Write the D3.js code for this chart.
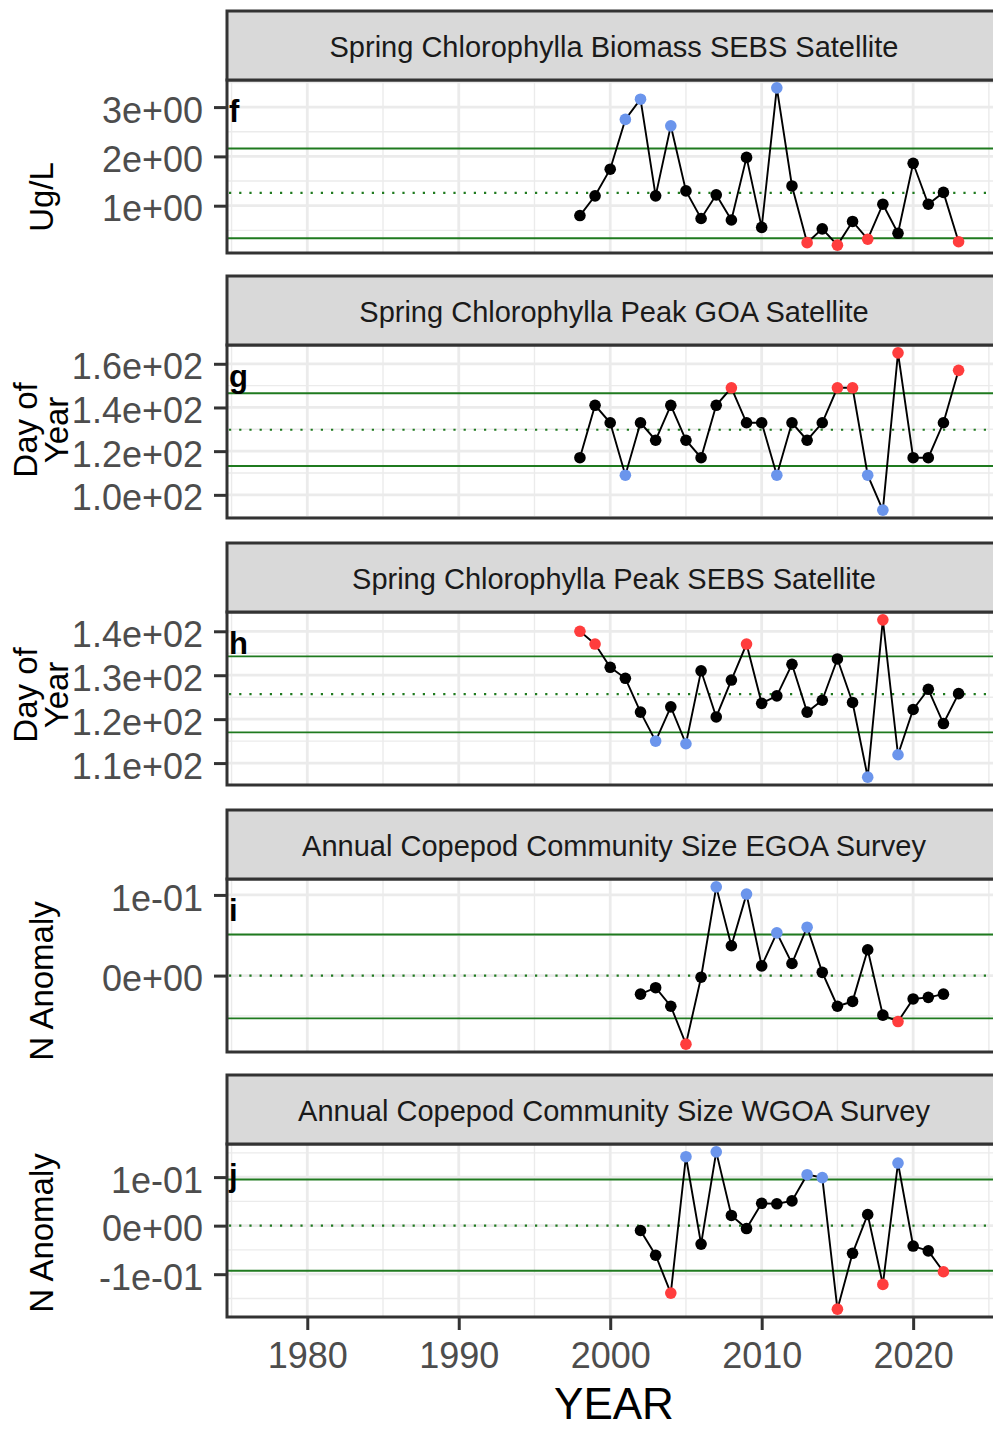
<!DOCTYPE html>
<html>
<head>
<meta charset="utf-8">
<script src="https://cdn.jsdelivr.net/npm/d3@7"></script>
<style>
  html, body { margin: 0; padding: 0; background: #ffffff; }
  svg { display: block; }
  text { font-family: "Liberation Sans", Arial, sans-serif; }
</style>
</head>
<body>
<svg id="chart" width="993" height="1429"></svg>
<script>
// ---- Series ----
const yearsSatellite = [1998, 1999, 2000, 2001, 2002, 2003, 2004, 2005, 2006, 2007, 2008, 2009, 2010,
                        2011, 2012, 2013, 2014, 2015, 2016, 2017, 2018, 2019, 2020, 2021, 2022, 2023];
const yearsSurvey = [2002, 2003, 2004, 2005, 2006, 2007, 2008, 2009, 2010, 2011, 2012,
                     2013, 2014, 2015, 2016, 2017, 2018, 2019, 2020, 2021, 2022];

const chlBiomassSEBS = [0.80, 1.20, 1.74, 2.75, 3.16, 1.20, 2.62, 1.30, 0.74, 1.22, 0.71, 1.98, 0.56,
                        3.39, 1.40, 0.25, 0.53, 0.20, 0.68, 0.32, 1.03, 0.44, 1.86, 1.03, 1.27, 0.27];
const chlPeakGOA = [117, 141, 133, 109, 133, 125, 141, 125, 117, 141, 149, 133, 133,
                    109, 133, 125, 133, 149, 149, 109, 93, 165, 117, 117, 133, 157];
const chlPeakSEBS = [140.0, 137.1, 131.8, 129.3, 121.6, 115.0, 122.8, 114.4, 131.0, 120.5, 128.9, 137.1, 123.6,
                     125.3, 132.5, 121.6, 124.3, 133.7, 123.8, 106.8, 142.6, 111.9, 122.2, 126.8, 119.0, 125.8];
const copepodEGOA = [-0.023, -0.015, -0.038, -0.085, -0.002, 0.110, 0.037, 0.101, 0.012, 0.053, 0.015,
                     0.060, 0.004, -0.038, -0.032, 0.032, -0.049, -0.057, -0.029, -0.027, -0.023];
const copepodWGOA = [-0.010, -0.061, -0.139, 0.142, -0.038, 0.152, 0.021, -0.006, 0.046, 0.045, 0.051,
                     0.105, 0.099, -0.172, -0.057, 0.023, -0.121, 0.129, -0.042, -0.052, -0.095];

// Reference lines: long-term mean and mean +/- 1 SD
const meanLines  = [1.26, 129.8, 125.7, 0.000, 0.000];
const upperLines = [2.16, 146.5, 134.3, 0.051, 0.095];
const lowerLines = [0.34, 113.2, 117.0, -0.053, -0.093];

// Panel titles, letters and axis titles
const panelTitles = [
  "Spring Chlorophylla Biomass SEBS Satellite",
  "Spring Chlorophylla Peak GOA Satellite",
  "Spring Chlorophylla Peak SEBS Satellite",
  "Annual Copepod Community Size EGOA Survey",
  "Annual Copepod Community Size WGOA Survey"
];
const panelLetters = ["f", "g", "h", "i", "j"];
const yTitles = [["Ug/L"], ["Day of", "Year"], ["Day of", "Year"], ["N Anomaly"], ["N Anomaly"]];

// Y tick values and their printed labels
const yTicks = [
  [1, 2, 3],
  [100, 120, 140, 160],
  [110, 120, 130, 140],
  [0, 0.1],
  [-0.1, 0, 0.1]
];
const yTickLabels = [
  ["1e+00", "2e+00", "3e+00"],
  ["1.0e+02", "1.2e+02", "1.4e+02", "1.6e+02"],
  ["1.1e+02", "1.2e+02", "1.3e+02", "1.4e+02"],
  ["0e+00", "1e-01"],
  ["-1e-01", "0e+00", "1e-01"]
];
const yMinorTicks = [
  [0.5, 1.5, 2.5, 3.5],
  [90, 110, 130, 150],
  [105, 115, 125, 135],
  [-0.05, 0.05],
  [-0.15, -0.05, 0.05, 0.15]
];
const xTicks = [1980, 1990, 2000, 2010, 2020];
const xTickLabels = ["1980", "1990", "2000", "2010", "2020"];
const xMinorTicks = [1975, 1985, 1995, 2005, 2015, 2025];

// colour of points above the upper line / below the lower line
const highColors = ["#6b95ec", "#ff3d3d", "#ff3d3d", "#6b95ec", "#6b95ec"];
const lowColors  = ["#ff3d3d", "#6b95ec", "#6b95ec", "#ff3d3d", "#ff3d3d"];

const panels = [
  { years: yearsSatellite, values: chlBiomassSEBS },
  { years: yearsSatellite, values: chlPeakGOA },
  { years: yearsSatellite, values: chlPeakSEBS },
  { years: yearsSurvey, values: copepodEGOA },
  { years: yearsSurvey, values: copepodWGOA }
];

// ---- Layout ----
const stripTops = [11, 276, 543, 810, 1075];
const stripH = 69;
const panelH = 173;
const left = 227, right = 1001;
const yTitleCenters = [197, 430, 695, 981, 1233];

const svg = d3.select("#chart");
svg.append("rect").attr("width", 993).attr("height", 1429).attr("fill", "#ffffff");

const x = d3.scaleLinear().domain([1974.7, 2025.8]).range([left, right]);

const GRID = "#ebebeb";
const BORDER = "#333333";
const GREEN = "#1f7a1f";

panels.forEach((p, k) => {
  const sTop = stripTops[k];
  const pTop = sTop + stripH;
  const pBot = pTop + panelH;
  const g = svg.append("g");

  const [vmin, vmax] = d3.extent(p.values.concat([upperLines[k], lowerLines[k]]));
  const pad = (vmax - vmin) * 0.05;
  const y = d3.scaleLinear().domain([vmin - pad, vmax + pad]).range([pBot, pTop]);

  const clipId = "clip" + k;
  g.append("clipPath").attr("id", clipId)
    .append("rect").attr("x", left).attr("y", pTop).attr("width", right - left).attr("height", panelH);

  const body = g.append("g").attr("clip-path", `url(#${clipId})`);

  // minor grid
  body.selectAll(".ym").data(yMinorTicks[k]).join("line")
    .attr("x1", left).attr("x2", right)
    .attr("y1", d => y(d)).attr("y2", d => y(d))
    .attr("stroke", GRID).attr("stroke-width", 1.4);
  body.selectAll(".xm").data(xMinorTicks).join("line")
    .attr("x1", d => x(d)).attr("x2", d => x(d))
    .attr("y1", pTop).attr("y2", pBot)
    .attr("stroke", GRID).attr("stroke-width", 1.4);
  // major grid
  body.selectAll(".yM").data(yTicks[k]).join("line")
    .attr("x1", left).attr("x2", right)
    .attr("y1", d => y(d)).attr("y2", d => y(d))
    .attr("stroke", GRID).attr("stroke-width", 2.8);
  body.selectAll(".xM").data(xTicks).join("line")
    .attr("x1", d => x(d)).attr("x2", d => x(d))
    .attr("y1", pTop).attr("y2", pBot)
    .attr("stroke", GRID).attr("stroke-width", 2.8);

  // reference lines
  [upperLines[k], lowerLines[k]].forEach(v => {
    body.append("line").attr("x1", left).attr("x2", right)
      .attr("y1", y(v)).attr("y2", y(v))
      .attr("stroke", GREEN).attr("stroke-width", 1.9);
  });
  body.append("line").attr("x1", left + 2).attr("x2", right)
    .attr("y1", y(meanLines[k])).attr("y2", y(meanLines[k]))
    .attr("stroke", GREEN).attr("stroke-width", 2.2)
    .attr("stroke-dasharray", "2.2,8");

  // series line and points
  const pts = p.years.map((yr, i) => ({ year: yr, value: p.values[i] }));
  body.append("path").datum(pts)
    .attr("fill", "none").attr("stroke", "#000000").attr("stroke-width", 1.9)
    .attr("d", d3.line().x(d => x(d.year)).y(d => y(d.value)));
  body.selectAll(".pt").data(pts).join("circle")
    .attr("cx", d => x(d.year)).attr("cy", d => y(d.value)).attr("r", 5.8)
    .attr("fill", d => d.value > upperLines[k] ? highColors[k]
                     : d.value < lowerLines[k] ? lowColors[k] : "#000000");

  // panel letter
  g.append("text").attr("x", 229).attr("y", pTop + 42)
    .attr("font-size", 31).attr("font-weight", "bold").attr("fill", "#000000")
    .text(panelLetters[k]);

  // borders
  g.append("rect").attr("x", left).attr("y", pTop).attr("width", right - left).attr("height", panelH)
    .attr("fill", "none").attr("stroke", BORDER).attr("stroke-width", 3);

  // strip
  g.append("rect").attr("x", left).attr("y", sTop).attr("width", right - left).attr("height", stripH)
    .attr("fill", "#d9d9d9").attr("stroke", BORDER).attr("stroke-width", 3);
  g.append("text").attr("x", (left + right) / 2).attr("y", sTop + stripH / 2 + 11)
    .attr("text-anchor", "middle").attr("font-size", 29).attr("fill", "#1a1a1a")
    .text(panelTitles[k]);

  // y axis
  const yAxis = d3.axisLeft(y).tickValues(yTicks[k])
    .tickFormat((d, i) => yTickLabels[k][i]).tickSize(13).tickPadding(11);
  const ya = g.append("g").attr("transform", `translate(${left},0)`).call(yAxis);
  ya.select(".domain").remove();
  ya.selectAll(".tick line").attr("stroke", BORDER).attr("stroke-width", 3);
  ya.selectAll(".tick text").attr("font-size", 36).attr("fill", "#4d4d4d")
    .attr("font-family", "'Liberation Sans', Arial, sans-serif").attr("dy", "0.42em");

  // y title
  const lines = yTitles[k];
  const baseX = lines.length === 1 ? [53] : [37, 68];
  lines.forEach((t, i) => {
    g.append("text")
      .attr("transform", `translate(${baseX[i]},${yTitleCenters[k]}) rotate(-90)`)
      .attr("text-anchor", "middle").attr("font-size", 33).attr("fill", "#000000")
      .text(t);
  });

  // x axis only below the last panel
  if (k === panels.length - 1) {
    const xAxis = d3.axisBottom(x).tickValues(xTicks)
      .tickFormat((d, i) => xTickLabels[i]).tickSize(13).tickPadding(12);
    const xa = g.append("g").attr("transform", `translate(0,${pBot})`).call(xAxis);
    xa.select(".domain").remove();
    xa.selectAll(".tick line").attr("stroke", BORDER).attr("stroke-width", 3);
    xa.selectAll(".tick text").attr("font-size", 36).attr("fill", "#4d4d4d")
      .attr("font-family", "'Liberation Sans', Arial, sans-serif");
    g.append("text").attr("x", (left + right) / 2).attr("y", 1419)
      .attr("text-anchor", "middle").attr("font-size", 44).attr("fill", "#000000")
      .text("YEAR");
  }
});
</script>
</body>
</html>
